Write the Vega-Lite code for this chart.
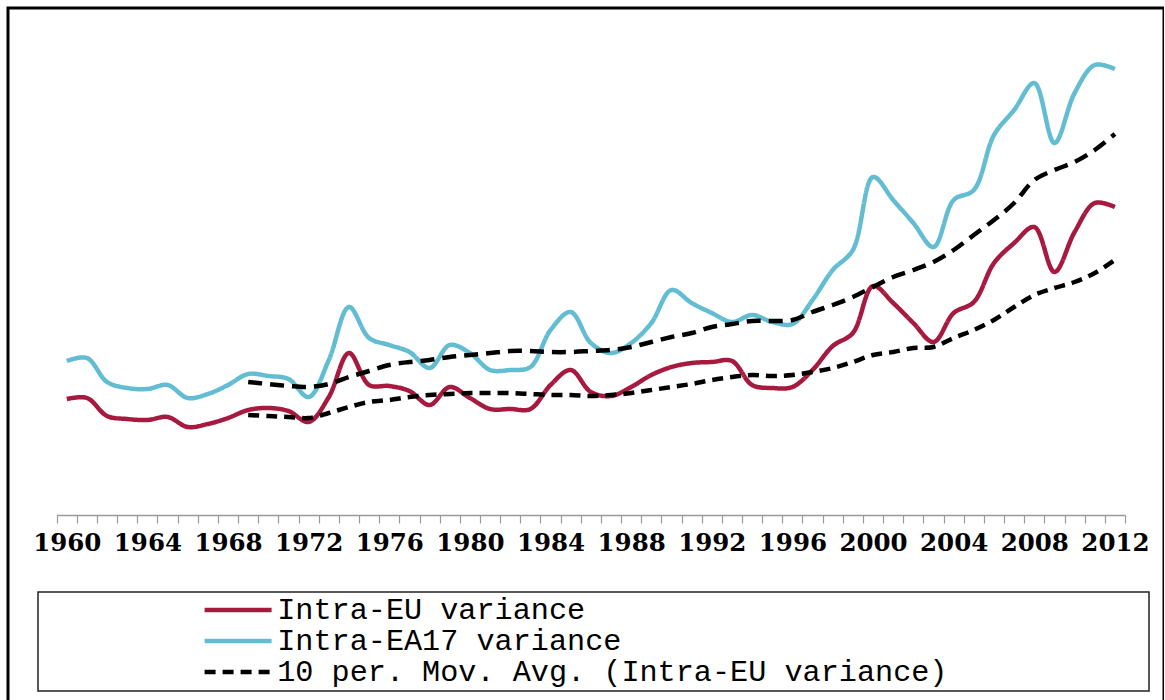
{
  "$schema": "https://vega.github.io/schema/vega-lite/v6.json",
  "autosize": {"type": "none"},
  "padding": {"left": 8, "top": 8, "right": 0, "bottom": 0},
  "width": 1156,
  "height": 695,
  "background": "white",
  "config": {
    "view": {"stroke": "black", "strokeWidth": 3},
    "legend": {"strokeWidth": 1.5}
  },
  "data": {
    "values": [
      {"year":1960,"eu":1.16,"ea":1.54,"maeu":null,"maea":null},
      {"year":1961,"eu":1.17,"ea":1.57,"maeu":null,"maea":null},
      {"year":1962,"eu":0.99,"ea":1.33,"maeu":null,"maea":null},
      {"year":1963,"eu":0.96,"ea":1.27,"maeu":null,"maea":null},
      {"year":1964,"eu":0.95,"ea":1.26,"maeu":null,"maea":null},
      {"year":1965,"eu":0.98,"ea":1.30,"maeu":null,"maea":null},
      {"year":1966,"eu":0.88,"ea":1.17,"maeu":null,"maea":null},
      {"year":1967,"eu":0.91,"ea":1.21,"maeu":null,"maea":null},
      {"year":1968,"eu":0.97,"ea":1.30,"maeu":null,"maea":null},
      {"year":1969,"eu":1.05,"ea":1.41,"maeu":1.00,"maea":1.33},
      {"year":1970,"eu":1.07,"ea":1.39,"maeu":0.99,"maea":1.31},
      {"year":1971,"eu":1.04,"ea":1.36,"maeu":0.98,"maea":1.29},
      {"year":1972,"eu":0.93,"ea":1.18,"maeu":0.97,"maea":1.28},
      {"year":1973,"eu":1.18,"ea":1.55,"maeu":1.02,"maea":1.31},
      {"year":1974,"eu":1.62,"ea":2.08,"maeu":1.08,"maea":1.38},
      {"year":1975,"eu":1.30,"ea":1.77,"maeu":1.13,"maea":1.44},
      {"year":1976,"eu":1.29,"ea":1.70,"maeu":1.15,"maea":1.50},
      {"year":1977,"eu":1.24,"ea":1.63,"maeu":1.18,"maea":1.53},
      {"year":1978,"eu":1.10,"ea":1.47,"maeu":1.20,"maea":1.55},
      {"year":1979,"eu":1.28,"ea":1.70,"maeu":1.21,"maea":1.58},
      {"year":1980,"eu":1.17,"ea":1.62,"maeu":1.22,"maea":1.60},
      {"year":1981,"eu":1.06,"ea":1.45,"maeu":1.22,"maea":1.62},
      {"year":1982,"eu":1.06,"ea":1.45,"maeu":1.22,"maea":1.64},
      {"year":1983,"eu":1.06,"ea":1.48,"maeu":1.21,"maea":1.64},
      {"year":1984,"eu":1.30,"ea":1.85,"maeu":1.20,"maea":1.63},
      {"year":1985,"eu":1.45,"ea":2.03,"maeu":1.20,"maea":1.63},
      {"year":1986,"eu":1.23,"ea":1.72,"maeu":1.19,"maea":1.64},
      {"year":1987,"eu":1.19,"ea":1.62,"maeu":1.20,"maea":1.65},
      {"year":1988,"eu":1.28,"ea":1.72,"maeu":1.22,"maea":1.68},
      {"year":1989,"eu":1.40,"ea":1.92,"maeu":1.25,"maea":1.73},
      {"year":1990,"eu":1.48,"ea":2.25,"maeu":1.28,"maea":1.78},
      {"year":1991,"eu":1.52,"ea":2.12,"maeu":1.31,"maea":1.82},
      {"year":1992,"eu":1.53,"ea":2.02,"maeu":1.35,"maea":1.88},
      {"year":1993,"eu":1.54,"ea":1.93,"maeu":1.38,"maea":1.91},
      {"year":1994,"eu":1.30,"ea":2.00,"maeu":1.40,"maea":1.94},
      {"year":1995,"eu":1.27,"ea":1.93,"maeu":1.39,"maea":1.94},
      {"year":1996,"eu":1.28,"ea":1.91,"maeu":1.40,"maea":1.95},
      {"year":1997,"eu":1.45,"ea":2.15,"maeu":1.43,"maea":2.03},
      {"year":1998,"eu":1.69,"ea":2.45,"maeu":1.47,"maea":2.10},
      {"year":1999,"eu":1.82,"ea":2.65,"maeu":1.53,"maea":2.18},
      {"year":2000,"eu":2.29,"ea":3.38,"maeu":1.60,"maea":2.28},
      {"year":2001,"eu":2.12,"ea":3.15,"maeu":1.63,"maea":2.38},
      {"year":2002,"eu":1.92,"ea":2.92,"maeu":1.67,"maea":2.45},
      {"year":2003,"eu":1.73,"ea":2.68,"maeu":1.68,"maea":2.53},
      {"year":2004,"eu":2.02,"ea":3.15,"maeu":1.77,"maea":2.65},
      {"year":2005,"eu":2.13,"ea":3.25,"maeu":1.85,"maea":2.80},
      {"year":2006,"eu":2.52,"ea":3.80,"maeu":1.95,"maea":2.95},
      {"year":2007,"eu":2.72,"ea":4.05,"maeu":2.08,"maea":3.12},
      {"year":2008,"eu":2.88,"ea":4.32,"maeu":2.20,"maea":3.35},
      {"year":2009,"eu":2.43,"ea":3.72,"maeu":2.27,"maea":3.45},
      {"year":2010,"eu":2.83,"ea":4.22,"maeu":2.33,"maea":3.53},
      {"year":2011,"eu":3.12,"ea":4.50,"maeu":2.42,"maea":3.65},
      {"year":2012,"eu":3.08,"ea":4.46,"maeu":2.55,"maea":3.81}
    ]
  },
  "transform": [
    {"fold": ["eu", "ea", "maeu", "maea"], "as": ["series", "v"]}
  ],
  "mark": {"type": "line", "interpolate": "catmull-rom", "strokeCap": "butt"},
  "encoding": {
    "x": {
      "field": "year",
      "type": "ordinal",
      "bandPosition": 0.5,
      "scale": {"type": "band", "paddingInner": 0, "paddingOuter": 0, "range": [48.7, 1117]},
      "axis": {
        "title": null,
        "offset": -188,
        "tickBand": "extent",
        "labelAngle": 0,
        "labelOverlap": false,
        "labelFlush": false,
        "labelExpr": "datum.value % 4 == 0 ? datum.label : ''",
        "labelFont": "DejaVu Serif",
        "labelFontWeight": "bold",
        "labelFontSize": 24.5,
        "labelColor": "black",
        "labelPadding": 8,
        "domainColor": "#9a9a9a",
        "domainWidth": 1.5,
        "tickColor": "#9a9a9a",
        "tickWidth": 1.2,
        "tickSize": 8,
        "grid": false
      }
    },
    "y": {
      "field": "v",
      "type": "quantitative",
      "scale": {"domain": [0, 4.85], "range": [507, 22], "nice": false, "zero": false},
      "axis": null
    },
    "color": {
      "field": "series",
      "type": "nominal",
      "scale": {
        "domain": ["eu", "ea", "maeu", "maea"],
        "range": ["#A8193F", "#63BDD2", "#000000", "#000000"]
      },
      "legend": {
        "values": ["eu", "ea", "maeu"],
        "orient": "none",
        "legendX": 30,
        "legendY": 584,
        "title": null,
        "strokeColor": "#222222",
        "padding": 3,
        "rowPadding": 0,
        "symbolType": "M-3.35,0H3.35",
        "symbolSize": 400,
        "symbolOffset": 182,
        "labelOffset": 24,
        "labelFont": "Liberation Mono",
        "labelFontSize": 30.2,
        "labelColor": "black",
        "labelLimit": 2000,
        "labelExpr": "datum.value == 'eu' ? 'Intra-EU variance' : datum.value == 'ea' ? 'Intra-EA17 variance' : '10 per. Mov. Avg. (Intra-EU variance)\u2800\u2800\u2800\u2800\u2800\u2800\u2800\u2800\u2800'"
      }
    },
    "strokeDash": {
      "field": "series",
      "type": "nominal",
      "scale": {
        "domain": ["eu", "ea", "maeu", "maea"],
        "range": [[1, 0], [1, 0], [11, 7], [14, 8]]
      },
      "legend": {
        "values": ["eu", "ea", "maeu"],
        "orient": "none",
        "legendX": 30,
        "legendY": 584,
        "title": null
      }
    },
    "strokeWidth": {
      "field": "series",
      "type": "nominal",
      "scale": {
        "domain": ["eu", "ea", "maeu", "maea"],
        "range": [4.5, 4.5, 3.5, 5.5]
      },
      "legend": {
        "values": ["eu", "ea", "maeu"],
        "orient": "none",
        "legendX": 30,
        "legendY": 584,
        "title": null
      }
    }
  }
}
